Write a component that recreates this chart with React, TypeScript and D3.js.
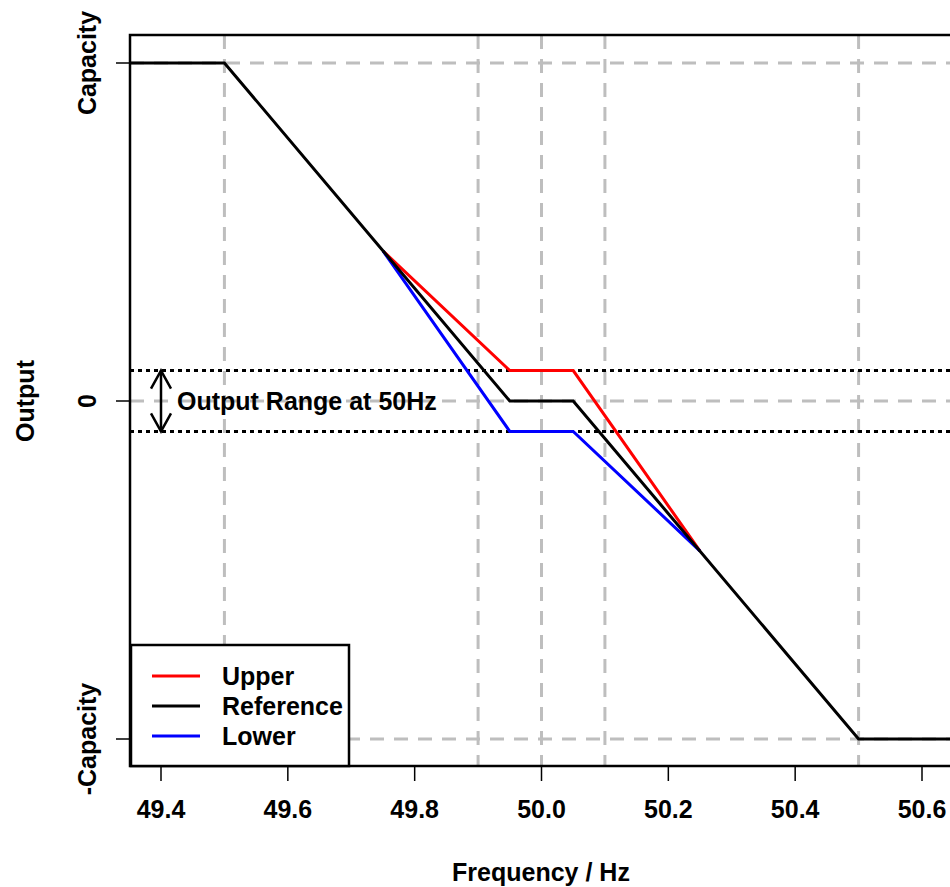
import React from 'react'
import * as d3 from 'd3'

// frequency breakpoints (Hz) and outputs (fraction of capacity)
const refFreq = [49.3, 49.5, 49.95, 50.05, 50.5, 50.8]
const refOut = [1, 1, 0, 0, -1, -1]
const bandFreq = [49.75, 49.95, 50.05, 50.25]
const upperOut = [0.444, 0.09, 0.09, -0.444]
const lowerOut = [0.444, -0.09, -0.09, -0.444]

const xTicks = [49.4, 49.6, 49.8, 50.0, 50.2, 50.4, 50.6]
const yTicks = [1, 0, -1]
const yTickLabels = ['Capacity', '0', '-Capacity']
const vGrid = [49.5, 49.9, 50.0, 50.1, 50.5]
const rangeLevel = 0.09

const legendNames = ['Upper', 'Reference', 'Lower']
const legendColors = ['#ff0000', '#000000', '#0000ff']

const W = 950
const H = 887
const left = 130
const top = 35
const bottom = 766
const right = 958

const font = '"Liberation Sans", Arial, sans-serif'
const fs = 25

export default function App() {
  const x = d3.scaleLinear().domain([49.4, 50.6]).range([161, 922])
  const y = d3.scaleLinear().domain([-1, 1]).range([739, 63])

  const line = d3
    .line<[number, number]>()
    .x(d => x(d[0]))
    .y(d => y(d[1]))

  const refPts = refFreq.map((f, i) => [f, refOut[i]] as [number, number])
  const upPts = bandFreq.map((f, i) => [f, upperOut[i]] as [number, number])
  const loPts = bandFreq.map((f, i) => [f, lowerOut[i]] as [number, number])

  const ax = x(49.4)
  const aTop = y(rangeLevel)
  const aBot = y(-rangeLevel)

  return (
    <svg width={W} height={H} style={{ display: 'block', position: 'absolute', left: 0, top: 0, background: '#fff' }}>
      <defs>
        <clipPath id="plot">
          <rect x={left} y={top} width={right - left} height={bottom - top} />
        </clipPath>
      </defs>
      <rect width={W} height={H} fill="#fff" />
      <g clipPath="url(#plot)">
        {vGrid.map(v => (
          <line key={'v' + v} x1={x(v)} x2={x(v)} y1={top} y2={bottom} stroke="#bebebe" strokeWidth={3} strokeDasharray="14,10" />
        ))}
        {yTicks.map(v => (
          <line key={'h' + v} x1={left} x2={right} y1={y(v)} y2={y(v)} stroke="#bebebe" strokeWidth={3} strokeDasharray="14,10" />
        ))}
        {[rangeLevel, -rangeLevel].map(v => (
          <line key={'r' + v} x1={left} x2={right} y1={y(v)} y2={y(v)} stroke="#000" strokeWidth={3} strokeDasharray="4,4" />
        ))}
        <path d={line(upPts) || ''} fill="none" stroke="#ff0000" strokeWidth={3} />
        <path d={line(loPts) || ''} fill="none" stroke="#0000ff" strokeWidth={3} />
        <path d={line(refPts) || ''} fill="none" stroke="#000" strokeWidth={3} />
      </g>

      {/* range arrow */}
      <g stroke="#000" strokeWidth={2.5} fill="none">
        <line x1={ax} x2={ax} y1={aTop} y2={aBot} />
        <polyline points={`${ax - 10},${aTop + 18} ${ax},${aTop} ${ax + 10},${aTop + 18}`} />
        <polyline points={`${ax - 10},${aBot - 18} ${ax},${aBot} ${ax + 10},${aBot - 18}`} />
      </g>
      <text x={177} y={y(0) + 9} fontFamily={font} fontWeight="bold" fontSize={fs}>
        Output Range at 50Hz
      </text>

      {/* frame */}
      <rect x={left} y={top} width={right - left} height={bottom - top} fill="none" stroke="#000" strokeWidth={2.5} />

      {/* x axis */}
      {xTicks.map(t => (
        <g key={'xt' + t}>
          <line x1={x(t)} x2={x(t)} y1={bottom} y2={bottom + 15} stroke="#000" strokeWidth={1.5} />
          <text x={x(t)} y={bottom + 52} textAnchor="middle" fontFamily={font} fontWeight="bold" fontSize={fs}>
            {t.toFixed(1)}
          </text>
        </g>
      ))}
      <text x={541} y={881} textAnchor="middle" fontFamily={font} fontWeight="bold" fontSize={fs}>
        Frequency / Hz
      </text>

      {/* y axis */}
      {yTicks.map((t, i) => (
        <g key={'yt' + t}>
          <line x1={left - 14} x2={left} y1={y(t)} y2={y(t)} stroke="#000" strokeWidth={1.5} />
          <text
            transform={`translate(${96},${y(t)}) rotate(-90)`}
            textAnchor="middle"
            fontFamily={font}
            fontWeight="bold"
            fontSize={fs}
          >
            {yTickLabels[i]}
          </text>
        </g>
      ))}
      <text transform={`translate(34,${y(0)}) rotate(-90)`} textAnchor="middle" fontFamily={font} fontWeight="bold" fontSize={fs}>
        Output
      </text>

      {/* legend */}
      <rect x={131} y={645} width={218} height={121} fill="#fff" stroke="#000" strokeWidth={2.5} />
      {legendNames.map((n, i) => (
        <g key={n}>
          <line x1={152} x2={200} y1={676 + i * 30} y2={676 + i * 30} stroke={legendColors[i]} strokeWidth={3} />
          <text x={222} y={685 + i * 30} fontFamily={font} fontWeight="bold" fontSize={fs}>
            {n}
          </text>
        </g>
      ))}
    </svg>
  )
}
